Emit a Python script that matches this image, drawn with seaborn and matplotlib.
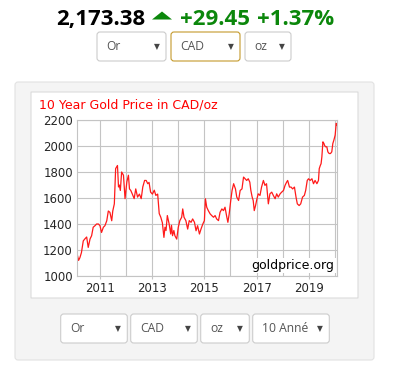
import numpy as np
import pandas as pd
import matplotlib
matplotlib.use("Agg")
import matplotlib.pyplot as plt
import seaborn as sns
from matplotlib.patches import FancyBboxPatch, Polygon

# price readings (CAD/oz), decimal year
years = [2010.13, 2010.18, 2010.23, 2010.29, 2010.36, 2010.42, 2010.49, 2010.55,
         2010.62, 2010.68, 2010.74, 2010.81, 2010.87, 2010.94, 2011.00, 2011.06,
         2011.13, 2011.19, 2011.26, 2011.32, 2011.38, 2011.45, 2011.49, 2011.55,
         2011.60, 2011.67, 2011.71, 2011.74, 2011.78, 2011.83, 2011.90, 2011.96,
         2012.03, 2012.09, 2012.13, 2012.18, 2012.24, 2012.31, 2012.37, 2012.44,
         2012.51, 2012.58, 2012.64, 2012.71, 2012.77, 2012.83, 2012.88, 2012.94,
         2013.01, 2013.08, 2013.14, 2013.21, 2013.27, 2013.33, 2013.39, 2013.45,
         2013.49, 2013.53, 2013.58, 2013.65, 2013.71, 2013.74, 2013.78, 2013.83,
         2013.87, 2013.94, 2014.00, 2014.06, 2014.13, 2014.17, 2014.22, 2014.29,
         2014.36, 2014.42, 2014.49, 2014.55, 2014.62, 2014.68, 2014.74, 2014.81,
         2014.87, 2014.94, 2015.00, 2015.04, 2015.09, 2015.15, 2015.22, 2015.28,
         2015.35, 2015.41, 2015.47, 2015.54, 2015.60, 2015.67, 2015.73, 2015.79,
         2015.86, 2015.90, 2015.95, 2016.01, 2016.06, 2016.12, 2016.19, 2016.24,
         2016.31, 2016.37, 2016.44, 2016.50, 2016.56, 2016.62, 2016.68, 2016.74,
         2016.78, 2016.83, 2016.87, 2016.91, 2016.96, 2017.00, 2017.06, 2017.13,
         2017.19, 2017.26, 2017.32, 2017.38, 2017.45, 2017.51, 2017.58, 2017.64,
         2017.71, 2017.77, 2017.83, 2017.90, 2017.96, 2018.03, 2018.09, 2018.15,
         2018.19, 2018.26, 2018.32, 2018.38, 2018.45, 2018.51, 2018.56, 2018.63,
         2018.69, 2018.76, 2018.83, 2018.88, 2018.94, 2018.99, 2019.05, 2019.12,
         2019.18, 2019.24, 2019.31, 2019.37, 2019.40, 2019.44, 2019.47, 2019.50,
         2019.54, 2019.58, 2019.60, 2019.64, 2019.69, 2019.73, 2019.78, 2019.83,
         2019.88, 2019.92, 2019.96, 2020.01, 2020.05, 2020.08]
prices = [1165, 1120, 1140, 1180, 1270, 1285, 1300, 1220,
          1285, 1310, 1375, 1387, 1400, 1400, 1387, 1335,
          1375, 1387, 1425, 1500, 1490, 1425, 1500, 1555,
          1826, 1850, 1685, 1700, 1658, 1800, 1775, 1595,
          1725, 1775, 1670, 1658, 1630, 1595, 1670, 1607,
          1630, 1595, 1685, 1735, 1735, 1710, 1720, 1645,
          1630, 1660, 1620, 1630, 1480, 1452, 1410, 1297,
          1375, 1350, 1465, 1400, 1323, 1390, 1310, 1350,
          1310, 1284, 1375, 1426, 1452, 1516, 1452, 1426,
          1361, 1426, 1413, 1439, 1413, 1348, 1387, 1323,
          1361, 1400, 1426, 1594, 1529, 1503, 1478, 1465,
          1452, 1465, 1439, 1426, 1490, 1516, 1503, 1529,
          1452, 1413, 1478, 1581, 1658, 1710, 1670, 1607,
          1581, 1658, 1670, 1761, 1748, 1735, 1748, 1722,
          1658, 1607, 1581, 1503, 1542, 1581, 1632, 1620,
          1684, 1735, 1697, 1710, 1555, 1632, 1645, 1620,
          1594, 1632, 1607, 1632, 1645, 1658, 1697, 1722,
          1735, 1684, 1684, 1670, 1684, 1607, 1555, 1542,
          1555, 1607, 1620, 1658, 1735, 1748, 1735, 1748,
          1710, 1735, 1710, 1735, 1826, 1850, 1864, 1916,
          2032, 2019, 2006, 1994, 1994, 1955, 1942, 1942,
          1955, 2019, 2045, 2084, 2174, 2160]

ytick_vals = [1000, 1200, 1400, 1600, 1800, 2000, 2200]
xtick_labeled = [2011, 2013, 2015, 2017, 2019]
xtick_grid = [2012, 2014, 2016, 2018, 2020]

top_boxes = [("Or", 97, 166), ("CAD", 171, 240), ("oz", 245, 291)]
bottom_boxes = [("Or", 60.7, 127.3), ("CAD", 130.7, 197.3), ("oz", 200.7, 249.3),
                ("10 Anné", 252.7, 329.3)]

df = pd.DataFrame({"year": years, "price": prices})

sns.set_style("white")
plt.rcParams["font.family"] = ["DejaVu Sans"]

W, H = 397, 376
fig = plt.figure(figsize=(W / 100, H / 100), dpi=100)
fig.patch.set_facecolor("white")

# pixel-space background layer
bg = fig.add_axes([0, 0, 1, 1], zorder=0)
bg.set_xlim(0, W)
bg.set_ylim(H, 0)
bg.axis("off")


def box(x0, y0, x1, y1, fc, ec, r=3, lw=0.8):
    bg.add_patch(FancyBboxPatch((x0, y0), x1 - x0, y1 - y0,
                                boxstyle=f"round,pad=0,rounding_size={r}",
                                fc=fc, ec=ec, lw=lw))


box(15, 82, 374, 360, "#f4f4f4", "#e2e2e2")
box(31, 92, 358, 298, "white", "#dcdcdc", r=0.1)

green = "#0b870b"
bg.text(56, 25, "2,173.38", fontfamily="Open Sans", weight="bold",
        fontsize=16, color="black", va="baseline")
bg.add_patch(Polygon([(152, 19.5), (172, 19.5), (162, 11.5)], closed=True,
                     fc=green, ec="none"))
bg.text(180, 25, "+29.45", fontfamily="Open Sans", weight="bold",
        fontsize=16, color=green, va="baseline")
bg.text(257, 25, "+1.37%", fontfamily="Open Sans", weight="bold",
        fontsize=16, color=green, va="baseline")


def dropdowns(items, y0, y1, ec_special=None):
    for label, x0, x1 in items:
        ec = "#cccccc"
        if ec_special and label == ec_special:
            ec = "#c49a2c"
        box(x0, y0, x1, y1, "white", ec)
        yc = (y0 + y1) / 2
        bg.text(x0 + 9.5, yc + 0.5, label, fontfamily="Open Sans",
                fontsize=8.7, color="#555555", va="center", ha="left")
        bg.text(x1 - 9.5, yc, "▼", fontsize=5.5, color="#444444",
                va="center", ha="center")


dropdowns(top_boxes, 32, 61, ec_special="CAD")
dropdowns(bottom_boxes, 314, 343)

bg.text(39, 108, "10 Year Gold Price in CAD/oz", color="#ff0000",
        fontsize=9, va="baseline")

# chart
ax = fig.add_axes([77 / W, (H - 276) / H, 260 / W, 156 / H], zorder=1)
ax.set_facecolor("white")
sns.lineplot(data=df, x="year", y="price", ax=ax, color="#ff1a1a", lw=0.9)

ax.set_xlim(2010.12, 2020.08)
ax.set_ylim(1000, 2200)
ax.set_yticks(ytick_vals)
ax.set_xticks(xtick_labeled)
ax.set_xticks(xtick_grid, minor=True)
ax.grid(True, which="both", axis="x", color="#c4c4c4", lw=0.8)
ax.grid(True, which="major", axis="y", color="#c4c4c4", lw=0.8)
ax.set_axisbelow(True)
ax.tick_params(axis="x", which="major", length=2.5, width=0.8, color="#c4c4c4",
               labelsize=8.5, pad=2, bottom=True)
ax.tick_params(axis="x", which="minor", length=0)
ax.tick_params(axis="y", length=0, labelsize=8.5, pad=3)
ax.set_xlabel("")
ax.set_ylabel("")
for s in ax.spines.values():
    s.set_color("#c4c4c4")
    s.set_linewidth(0.8)

ax.text(0.99, 0.025, "goldprice.org", transform=ax.transAxes, ha="right",
        va="bottom", fontsize=9, color="black",
        bbox=dict(fc="white", ec="none", pad=1))

fig.savefig("out.png", dpi=100)
